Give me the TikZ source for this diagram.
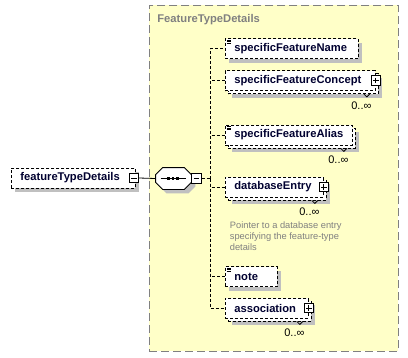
\documentclass[tikz,border=0pt]{standalone}
\usepackage{fontspec}
\setmainfont{Liberation Sans}
\usetikzlibrary{shadows}
\definecolor{panel}{HTML}{FFFFC8}
\definecolor{panelline}{HTML}{808080}
\definecolor{shade}{HTML}{C0C0C0}
\definecolor{nametext}{HTML}{000030}
\definecolor{doctext}{HTML}{808080}
\newcommand{\elemfont}{\fontsize{11.2}{13}\selectfont\bfseries}
\newcommand{\docfont}{\fontsize{9.3}{11}\selectfont}
\newcommand{\multfont}{\fontsize{11}{12}\selectfont}
\tikzset{
  container/.style={rectangle, draw=panelline, fill=panel,
    dash pattern=on 8pt off 4pt, anchor=north west, inner sep=0pt},
  typename/.style={font=\elemfont, text=doctext, anchor=west, inner sep=0pt},
  elem/.style={rectangle, draw=black, dash pattern=on 3pt off 2pt, fill=white,
    anchor=west, minimum height=20pt, inner xsep=9pt, inner ysep=0pt,
    align=flush left, font=\elemfont, text=nametext},
  single/.style={general shadow={fill=shade, shadow xshift=4pt, shadow yshift=-4pt}},
  multi/.style={general shadow={fill=shade, shadow xshift=7pt, shadow yshift=-7pt},
    general shadow={fill=white, draw=black, dash pattern=on 3pt off 2pt,
      shadow xshift=3pt, shadow yshift=-3pt}},
  simple/.style={path picture={
    \foreach \d in {1.5pt,3pt,4.5pt}
      \draw[black, solid] ([shift={(1.5pt,-\d)}]path picture bounding box.north west) -- ++(4pt,0pt);}},
  minus/.style={rectangle, draw=black, solid, fill=white, minimum size=9.5pt, inner sep=0pt,
    path picture={\draw[black] ([xshift=2pt]path picture bounding box.west)
      -- ([xshift=-2pt]path picture bounding box.east);}},
  plus/.style={rectangle, draw=black, solid, fill=white, minimum size=9.5pt, inner sep=0pt,
    path picture={\draw[black] ([xshift=2pt]path picture bounding box.west)
      -- ([xshift=-2pt]path picture bounding box.east)
      ([yshift=-2pt]path picture bounding box.north)
      -- ([yshift=2pt]path picture bounding box.south);}},
  seqbox/.style={rectangle, minimum width=35pt, minimum height=21pt, inner sep=0pt},
  seqframe/.style={draw=black, fill=white, single},
  mult/.style={font=\multfont, text=black, inner sep=0pt, anchor=east},
  doc/.style={font=\docfont, text=doctext, align=left, inner sep=0pt, anchor=north west},
  link/.style={draw=black, solid},
  branch/.style={draw=black, dash pattern=on 3pt off 2pt}
}

\begin{document}
\begin{tikzpicture}[x=1pt, y=-1pt, line width=0.8pt]
  \useasboundingbox (0,0) rectangle (408,357);

  % complex type area
  \node[container, minimum width=249pt, minimum height=346pt] (typebox) at (149,5) {};
  \node[typename] (typetitle) at (157,19.5) {FeatureTypeDetails};

  % root element
  \node[elem, single, text width=106pt] (ftd) at (11,178) {featureTypeDetails};
  \node[minus] (ftdexp) at ([xshift=-2pt]ftd.east) {};

  % sequence compositor (octagon)
  \node[seqbox] (seq) at (173.5,178.5) {};
  \draw[seqframe] ([xshift=7pt]seq.north west) -- ([xshift=-7pt]seq.north east)
    -- ([yshift=-7pt]seq.north east) -- ([yshift=7pt]seq.south east)
    -- ([xshift=-7pt]seq.south east) -- ([xshift=7pt]seq.south west)
    -- ([yshift=7pt]seq.south west) -- ([yshift=-7pt]seq.north west) -- cycle;
  \draw[black] ([xshift=5pt]seq.west) -- ([xshift=-5pt]seq.east);
  \foreach \dx in {-5pt,-0.5pt,4pt}
    \fill[black] ([xshift=\dx]seq.center) +(-1.4pt,-1.4pt) rectangle +(1.4pt,1.4pt);
  \node[minus, anchor=west] (seqexp) at (seq.east) {};
  \coordinate (fork) at (210,178.5);

  % children
  \node[elem, single, simple, text width=115pt] (sfname) at (225,48.5) {specificFeatureName};
  \node[elem, multi, text width=132pt] (sfconcept) at (225,80.5) {specificFeatureConcept};
  \node[plus] (sfconceptexp) at (sfconcept.east) {};
  \node[elem, multi, simple, text width=109pt] (sfalias) at (225,135) {specificFeatureAlias};
  \node[elem, multi, text width=80pt] (dbentry) at (225,187) {databaseEntry};
  \node[plus] (dbentryexp) at (dbentry.east) {};
  \node[doc] (dbentrydoc) at (229.5,221.5) {Pointer to a database entry\\specifying the feature-type\\details};
  \node[elem, single, simple, text width=34pt] (note) at (225,276.5) {note};
  \node[elem, multi, text width=65pt] (assoc) at (225,308) {association};
  \node[plus] (assocexp) at (assoc.east) {};

  % occurrence marks
  \foreach \n in {sfconcept, sfalias, dbentry, assoc} {
    \node[mult] (\n mult) at ([shift={(-4pt,-14.5pt)}]\n.south east) {0..∞};
    \draw[black] ([shift={(-12pt,-3pt)}]\n.south east) -- ++(3pt,-3pt) -- ++(3pt,3pt);
  }

  % connectors
  \draw[link] (ftdexp.east) -- (seq.west);
  \draw[branch] (seqexp.east) -- (fork);
  \foreach \n in {sfname, sfconcept, sfalias, dbentry, note, assoc}
    \draw[branch] (fork) |- (\n.west);
\end{tikzpicture}
\end{document}
